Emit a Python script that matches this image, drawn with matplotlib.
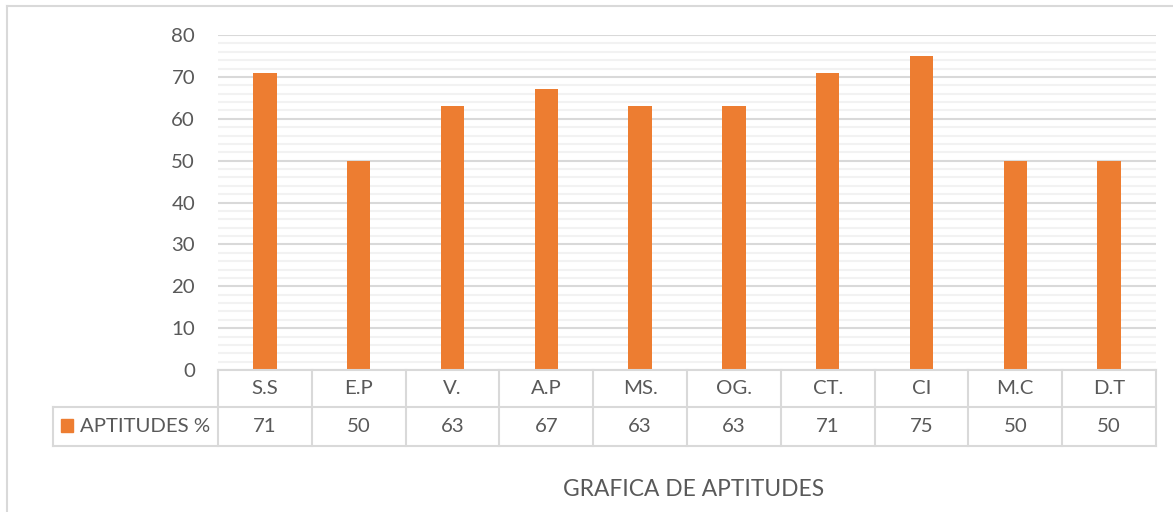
import matplotlib
matplotlib.use("Agg")
import matplotlib.pyplot as plt
from matplotlib.patches import Rectangle
from matplotlib.lines import Line2D

categories = ["S.S", "E.P", "V.", "A.P", "MS.", "OG.", "CT.", "CI", "M.C", "D.T"]
values = [71, 50, 63, 67, 63, 63, 71, 75, 50, 50]
series_name = "APTITUDES %"
title = "GRAFICA DE APTITUDES"
yticks = [0, 10, 20, 30, 40, 50, 60, 70, 80]

W, H = 1173, 512
BAR = "#ED7D31"
TXT = "#595959"
GRID = "#D9D9D9"
MINOR = "#F2F2F2"
FONT = "Lato"
FS = 14.7

fig = plt.figure(figsize=(W / 100, H / 100), dpi=100)

def fx(px):
    return px / W

def fy(py):
    return (H - py) / H

x0, x1 = 218, 1156
y_top, y_zero = 35, 370
ax = fig.add_axes([fx(x0), fy(y_zero), fx(x1) - fx(x0), fy(y_top) - fy(y_zero)])
n = len(categories)
ax.set_xlim(-0.5, n - 0.5)
ax.set_ylim(0, 80)
ax.set_yticks(yticks)
ax.set_yticks(range(0, 81, 2), minor=True)
ax.set_yticklabels([str(t) for t in yticks], fontfamily=FONT, fontsize=FS, color=TXT)
ax.tick_params(axis="y", which="both", length=0, pad=16.5)
ax.tick_params(axis="x", which="both", length=0, labelbottom=False)
ax.grid(axis="y", which="minor", color=MINOR, linewidth=1.5, zorder=0)
ax.grid(axis="y", which="major", color=GRID, linewidth=1.5, zorder=0.5)
for s in ax.spines.values():
    s.set_visible(False)
ax.set_axisbelow(True)
ax.bar(range(n), values, width=0.25, color=BAR, zorder=3)

# Data table
r0, r1, r2 = 370, 407, 446
xl = 53
colw = (x1 - x0) / n
lw = 1.5
def hline(y, xa, xb):
    fig.add_artist(Line2D([fx(xa), fx(xb)], [fy(y), fy(y)], color=GRID, lw=lw))
def vline(x, ya, yb):
    fig.add_artist(Line2D([fx(x), fx(x)], [fy(ya), fy(yb)], color=GRID, lw=lw))

hline(r0, x0, x1)
hline(r1, xl, x1)
hline(r2, xl, x1)
vline(xl, r1, r2)
for i in range(n + 1):
    vline(x0 + i * colw, r0, r2)
for i, (c, v) in enumerate(zip(categories, values)):
    cx = x0 + (i + 0.5) * colw
    fig.text(fx(cx), fy((r0 + r1) / 2), c, ha="center", va="center",
             fontfamily=FONT, fontsize=FS, color=TXT)
    fig.text(fx(cx), fy((r1 + r2) / 2), str(v), ha="center", va="center",
             fontfamily=FONT, fontsize=FS, color=TXT)
fig.add_artist(Rectangle((fx(61), fy(432)), fx(12), 13 / H, color=BAR,
                         transform=fig.transFigure))
fig.text(fx(80), fy((r1 + r2) / 2), series_name, ha="left", va="center",
         fontfamily=FONT, fontsize=FS, color=TXT)

# Title
fig.text(fx(694), fy(490), title, ha="center", va="center",
         fontfamily=FONT, fontsize=16.4, color=TXT)

# Chart border
fig.add_artist(Line2D([fx(7), fx(7)], [fy(6), 0], color=GRID, lw=1.5))
fig.add_artist(Line2D([fx(7), 1], [fy(6), fy(6)], color=GRID, lw=1.5))

fig.savefig("out.png", dpi=100)
